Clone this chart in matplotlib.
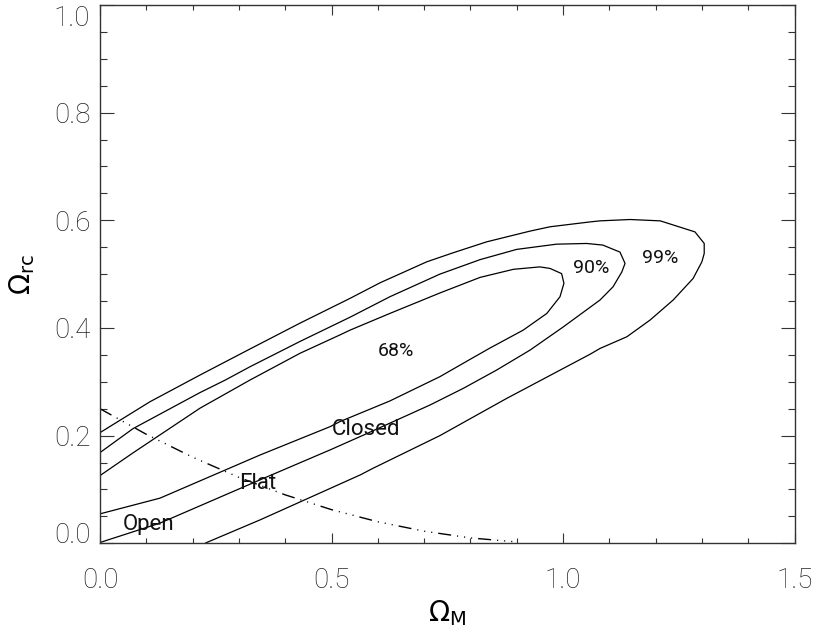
import matplotlib
matplotlib.use("Agg")
import matplotlib.pyplot as plt
from matplotlib.ticker import MultipleLocator

# ---- data ----
c99_x = [-0.02, 0.000, 0.108, 0.216, 0.324, 0.432, 0.540, 0.605, 0.706, 0.762, 0.835, 0.929, 0.972,
         1.058, 1.080, 1.145, 1.210, 1.285, 1.305, 1.305, 1.300, 1.281, 1.238, 1.188, 1.138,
         1.080, 1.058, 0.878, 0.734, 0.590, 0.562, 0.346, 0.2305, 0.20]
c99_y = [0.194, 0.2056, 0.263, 0.3126, 0.361, 0.409, 0.455, 0.484, 0.523, 0.5395, 0.560, 0.580, 0.588,
         0.597, 0.599, 0.6015, 0.599, 0.5785, 0.557, 0.5384, 0.523, 0.492, 0.452, 0.4147, 0.3837,
         0.362, 0.351, 0.269, 0.200, 0.1395, 0.127, 0.0436, 0.0015, -0.012]

c90_x = [-0.02, 0.000, 0.0713, 0.216, 0.270, 0.324, 0.432, 0.540, 0.626, 0.734, 0.821, 0.900, 0.986,
         1.051, 1.086, 1.123, 1.134, 1.127, 1.108, 1.080, 1.0006, 0.929, 0.857, 0.785, 0.713,
         0.641, 0.569, 0.497, 0.346, 0.1296, 0.000, -0.02]
c90_y = [0.157, 0.1685, 0.213, 0.280, 0.303, 0.328, 0.375, 0.420, 0.458, 0.500, 0.527, 0.546, 0.5557,
         0.557, 0.554, 0.541, 0.520, 0.504, 0.4764, 0.452, 0.402, 0.359, 0.322, 0.288, 0.257,
         0.229, 0.201, 0.1735, 0.118, 0.0375, 0.0015, -0.005]

c68_x = [-0.02, 0.000, 0.0713, 0.216, 0.324, 0.432, 0.518, 0.540, 0.626, 0.734, 0.821, 0.893, 0.950,
         0.972, 0.997, 1.002, 0.9935, 0.965, 0.914, 0.842, 0.806, 0.734, 0.626, 0.518, 0.497,
         0.3456, 0.1296, 0.000, -0.02]
c68_y = [0.113, 0.1258, 0.168, 0.251, 0.3033, 0.353, 0.387, 0.396, 0.427, 0.465, 0.494, 0.509, 0.5135,
         0.5106, 0.501, 0.483, 0.458, 0.427, 0.396, 0.3626, 0.345, 0.3095, 0.2644, 0.226, 0.2167,
         0.164, 0.0839, 0.0547, 0.049]

flat_x = [0.0, 0.1, 0.2, 0.3, 0.4, 0.5, 0.6, 0.7, 0.8, 0.9]
flat_y = [0.25, 0.2025, 0.16, 0.1225, 0.09, 0.0625, 0.04, 0.0225, 0.01, 0.0025]

conf_labels = ["68%", "90%", "99%"]
conf_label_x = [0.640, 1.061, 1.209]
conf_label_y = [0.358, 0.511, 0.530]

region_labels = ["Closed", "Flat", "Open"]
region_label_x = [0.574, 0.341, 0.104]
region_label_y = [0.212, 0.112, 0.034]

x_ticks = [0.0, 0.5, 1.0, 1.5]
y_ticks = [0.0, 0.2, 0.4, 0.6, 0.8, 1.0]

# ---- figure ----
plt.rcParams['font.family'] = ['Roboto', 'DejaVu Sans']
plt.rcParams['mathtext.fontset'] = 'dejavusans'

fig = plt.figure(figsize=(8.19, 6.35), dpi=100)
ax = fig.add_axes([100 / 819, (635 - 543.3) / 635, 694.5 / 819, 538.3 / 635])

lc = 'black'
for xs, ys in [(c99_x, c99_y), (c90_x, c90_y), (c68_x, c68_y)]:
    ax.plot(xs, ys, color=lc, lw=0.9)

ax.plot(flat_x, flat_y, color=lc, lw=1.0,
        dashes=(9.4, 4.3, 0.8, 4.3, 0.8, 4.3, 0.8, 4.3))

for t, x, y in zip(conf_labels, conf_label_x, conf_label_y):
    ax.text(x, y, t, fontsize=14, ha='center', va='center', color='#111')
for t, x, y in zip(region_labels, region_label_x, region_label_y):
    ax.text(x, y, t, fontsize=16, ha='center', va='center', color='#111')

ax.set_xlim(0, 1.5)
ax.set_ylim(0, 1.0)
ax.set_xticks(x_ticks)
ax.set_yticks(y_ticks)
ax.set_xticklabels([f"{v:.1f}" for v in x_ticks])
ax.set_yticklabels([f"{v:.1f}" for v in y_ticks])
ax.xaxis.set_minor_locator(MultipleLocator(0.1))
ax.yaxis.set_minor_locator(MultipleLocator(0.05))

fc = '#333333'
for s in ax.spines.values():
    s.set_color(fc)
    s.set_linewidth(1.0)
ax.tick_params(axis='both', which='both', direction='in', top=True, right=True,
               color=fc, width=0.8, labelcolor='#222')
ax.tick_params(axis='x', which='major', length=7.2, pad=17, labelsize=20)
ax.tick_params(axis='x', which='minor', length=3.6)
ax.tick_params(axis='y', which='major', length=10, pad=7, labelsize=20)
ax.tick_params(axis='y', which='minor', length=5)
for lbl in ax.get_xticklabels() + ax.get_yticklabels():
    lbl.set_fontweight('light')

ylbls = ax.yaxis.get_major_ticks()
ylbls[0].label1.set_verticalalignment('baseline')
ylbls[-1].label1.set_verticalalignment('top')

ax.set_xlabel(r'$\Omega_{\mathrm{M}}$', fontsize=20, labelpad=3)
ax.set_ylabel(r'$\Omega_{\mathrm{rc}}$', fontsize=20, labelpad=12)

fig.savefig('out.png', dpi=100)
